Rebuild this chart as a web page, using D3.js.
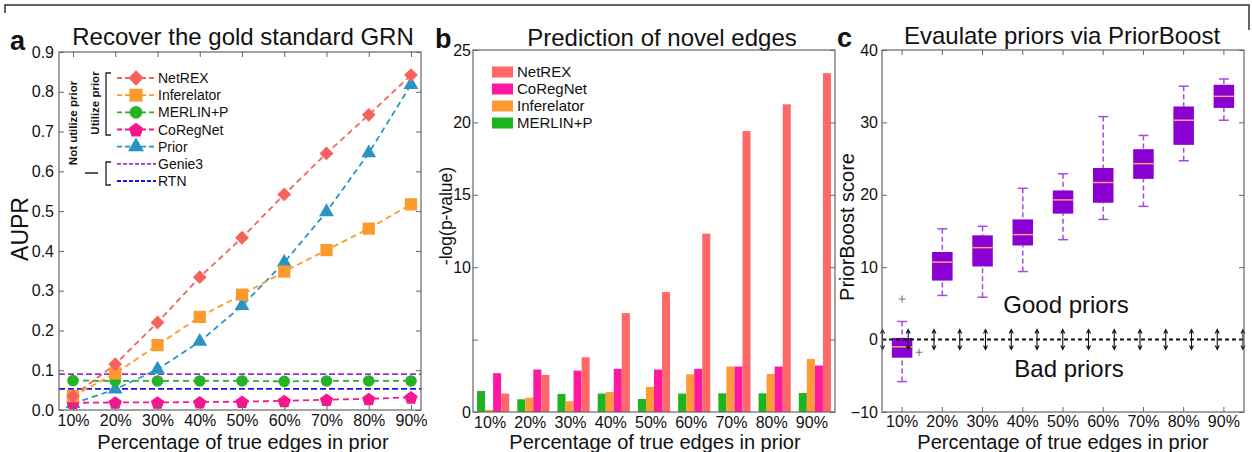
<!DOCTYPE html>
<html>
<head>
<meta charset="utf-8">
<script src="https://cdn.jsdelivr.net/npm/d3@7"></script>
<style>
  html, body { margin: 0; padding: 0; background: #fff; }
  svg { display: block; font-family: "Liberation Sans", Arial, sans-serif; }
</style>
</head>
<body>
<svg id="fig" width="1252" height="452"></svg>
<script>
// ---- data ----
const pcts = [10, 20, 30, 40, 50, 60, 70, 80, 90];
const pctLabels = pcts.map((p) => p + '%');

// panel a: AUPR
const auprNetREX = [0.035, 0.115, 0.22, 0.334, 0.433, 0.542, 0.645, 0.742, 0.842];
const auprInferelator = [0.035, 0.092, 0.163, 0.234, 0.29, 0.348, 0.402, 0.456, 0.517];
const auprMerlin = [0.074, 0.073, 0.073, 0.073, 0.073, 0.072, 0.073, 0.073, 0.073];
const auprCoRegNet = [0.018, 0.019, 0.019, 0.02, 0.021, 0.023, 0.026, 0.028, 0.032];
const auprPrior = [0.016, 0.052, 0.102, 0.172, 0.262, 0.371, 0.498, 0.646, 0.818];
const auprGenie3 = 0.09;
const auprRTN = 0.053;
const auprTicks = [0, 0.1, 0.2, 0.3, 0.4, 0.5, 0.6, 0.7, 0.8, 0.9];

// panel b: -log(p-value)
const novelSeries = ['MERLIN+P', 'Inferelator', 'CoRegNet', 'NetREX'];
const novelMerlin = [1.45, 0.88, 1.25, 1.27, 0.9, 1.27, 1.29, 1.29, 1.31];
const novelInferelator = [0.14, 0.99, 0.74, 1.38, 1.73, 2.6, 3.14, 2.63, 3.67];
const novelCoRegNet = [2.68, 2.93, 2.86, 2.98, 2.93, 2.98, 3.14, 3.14, 3.21];
const novelNetREX = [1.27, 2.56, 3.78, 6.83, 8.28, 12.32, 19.4, 21.25, 23.4];
const novelTicks = [0, 5, 10, 15, 20, 25];

// panel c: PriorBoost score boxplots
const pbWhiskLo = [-5.8, 6.1, 5.85, 9.4, 13.8, 16.6, 18.4, 24.7, 30.3];
const pbQ1 = [-2.5, 8.15, 10.1, 13.0, 17.4, 18.9, 22.2, 26.9, 32.0];
const pbMedian = [-1.0, 10.7, 12.7, 14.5, 19.3, 21.7, 24.3, 30.3, 33.6];
const pbQ3 = [0.23, 12.1, 14.4, 16.6, 20.6, 23.7, 26.3, 32.2, 35.2];
const pbWhiskHi = [2.5, 15.3, 15.65, 20.9, 22.9, 30.8, 28.2, 35.0, 36.0];
const pbOutliers = [{ pct: '10%', v: 5.6, dx: 0 }, { pct: '10%', v: -1.75, dx: 17 }];
const pbTicks = [-10, 0, 10, 20, 30, 40];

// ---- colors ----
const C = {
  netrex: '#f7625f',
  infer: '#fc9a2c',
  merlin: '#25b325',
  coreg: '#f5168e',
  prior: '#2994c2',
  genie3: '#9a30d0',
  rtn: '#1515e6',
  frame: '#666',
  box: '#8a00d2',
  whisk: '#a64ce0',
  med: '#f2a27a',
};
const barColor = { 'MERLIN+P': '#1fb41f', Inferelator: '#ff9a36', CoRegNet: '#ff18a0', NetREX: '#ff6868' };

const svg = d3.select('#fig');
svg.append('rect').attr('width', 1252).attr('height', 452).attr('fill', '#fff');

// top border of the cropped figure
svg.append('path')
  .attr('d', 'M5,13V5H1249V30')
  .attr('fill', 'none').attr('stroke', '#333').attr('stroke-width', 1.5);

function frame(x0, y0, x1, y1) {
  svg.append('rect')
    .attr('x', x0).attr('y', y0).attr('width', x1 - x0).attr('height', y1 - y0)
    .attr('fill', 'none').attr('stroke', C.frame).attr('stroke-width', 1.2);
}

function styleAxis(g, size) {
  g.select('.domain').remove();
  g.selectAll('line').attr('stroke', C.frame);
  g.selectAll('text').attr('font-size', size || 16).attr('fill', '#111')
    .attr('font-family', '"Liberation Sans", Arial, sans-serif');
}

function label(x, y, txt, size, opts = {}) {
  const t = svg.append('text')
    .attr('x', x).attr('y', y)
    .attr('font-size', size)
    .attr('fill', '#111')
    .attr('text-anchor', opts.anchor || 'middle')
    .attr('font-weight', opts.bold ? 700 : 400)
    .text(txt);
  if (opts.rotate) t.attr('transform', `rotate(-90,${x},${y})`);
  return t;
}

// custom marker shapes
const symDiamond = {
  draw(ctx, size) {
    const r = Math.sqrt(size / 2);
    ctx.moveTo(0, -r); ctx.lineTo(r, 0); ctx.lineTo(0, r); ctx.lineTo(-r, 0); ctx.closePath();
  },
};
const symPentagon = {
  draw(ctx, size) {
    const r = Math.sqrt(size / (2.5 * Math.sin((2 * Math.PI) / 5)));
    for (let i = 0; i < 5; i++) {
      const a = -Math.PI / 2 + (i * 2 * Math.PI) / 5;
      if (i === 0) ctx.moveTo(r * Math.cos(a), r * Math.sin(a) + 0.8);
      else ctx.lineTo(r * Math.cos(a), r * Math.sin(a) + 0.8);
    }
    ctx.closePath();
  },
};

const xTitle = 'Percentage of true edges in prior';

// ================= panel a =================
{
  const x0 = 59, x1 = 421, y0 = 52, y1 = 410;
  const x = d3.scaleLinear().domain([10, 90]).range([73, 411]);
  const y = d3.scaleLinear().domain([0, 0.9]).range([y1, y0]);

  label(10, 50, 'a', 27, { anchor: 'start', bold: true });
  label(243, 45, 'Recover the gold standard GRN', 24);
  label(28, 229, 'AUPR', 23, { rotate: true });
  label(243, 449, xTitle, 20);

  const series = [
    { name: 'NetREX', vals: auprNetREX, color: C.netrex, sym: symDiamond, size: 95, lsize: 120 },
    { name: 'Inferelator', vals: auprInferelator, color: C.infer, sym: d3.symbolSquare, size: 150, lsize: 170 },
    { name: 'MERLIN+P', vals: auprMerlin, color: C.merlin, sym: d3.symbolCircle, size: 105, lsize: 125 },
    { name: 'CoRegNet', vals: auprCoRegNet, color: C.coreg, sym: symPentagon, size: 115, lsize: 135 },
    { name: 'Prior', vals: auprPrior, color: C.prior, sym: d3.symbolTriangle, size: 95, lsize: 110 },
  ];

  // baseline methods (no prior)
  const hl = [
    { name: 'Genie3', v: auprGenie3, color: C.genie3 },
    { name: 'RTN', v: auprRTN, color: C.rtn },
  ];
  svg.append('g').selectAll('line').data(hl).join('line')
    .attr('x1', x0).attr('x2', x1)
    .attr('y1', (d) => y(d.v)).attr('y2', (d) => y(d.v))
    .attr('stroke', (d) => d.color).attr('stroke-width', 1.8).attr('stroke-dasharray', '6,3');

  const line = d3.line().x((d, i) => x(pcts[i])).y((d) => y(d));
  series.slice().reverse().forEach((s) => {
    svg.append('path').datum(s.vals)
      .attr('d', line).attr('fill', 'none')
      .attr('stroke', s.color).attr('stroke-width', 1.8).attr('stroke-dasharray', '6,4');
  });
  series.slice().reverse().forEach((s) => {
    svg.append('g').selectAll('path').data(s.vals).join('path')
      .attr('transform', (d, i) => `translate(${x(pcts[i])},${y(d)})`)
      .attr('d', d3.symbol().type(s.sym).size(s.size))
      .attr('fill', s.color);
  });

  // axes (ticks point inward)
  const ax = (g) => styleAxis(g);
  svg.append('g').attr('transform', `translate(${x0},0)`)
    .call(d3.axisLeft(y).tickValues(auprTicks).tickFormat(d3.format('.1f')).tickSizeInner(-5).tickSizeOuter(0).tickPadding(5))
    .call(ax);
  svg.append('g').attr('transform', `translate(${x1},0)`)
    .call(d3.axisRight(y).tickValues(auprTicks).tickFormat('').tickSizeInner(-5).tickSizeOuter(0))
    .call(ax);
  svg.append('g').attr('transform', `translate(0,${y1})`)
    .call(d3.axisBottom(x).tickValues(pcts).tickFormat((d) => d + '%').tickSizeInner(-5).tickSizeOuter(0).tickPadding(5))
    .call(ax);
  svg.append('g').attr('transform', `translate(0,${y0})`)
    .call(d3.axisTop(x).tickValues(pcts).tickFormat('').tickSizeInner(-5).tickSizeOuter(0))
    .call(ax);
  frame(x0, y0, x1, y1);

  // legend
  const legRows = series.map((s) => ({ ...s, dashed: true }))
    .concat(hl.map((h) => ({ name: h.name, color: h.color, sym: null })));
  const ly = d3.scalePoint().domain(legRows.map((d) => d.name)).range([78, 181]);
  const lg = svg.append('g');
  legRows.forEach((r) => {
    const yy = ly(r.name);
    lg.append('line').attr('x1', 117).attr('x2', 156).attr('y1', yy).attr('y2', yy)
      .attr('stroke', r.color).attr('stroke-width', 1.8).attr('stroke-dasharray', r.sym ? '5,3' : '4,2');
    if (r.sym) {
      lg.append('path').attr('transform', `translate(136,${yy})`)
        .attr('d', d3.symbol().type(r.sym).size(r.lsize)).attr('fill', r.color);
    }
    lg.append('text').attr('x', 158).attr('y', yy).attr('dy', '0.36em')
      .attr('font-size', 14).attr('fill', '#111').text(r.name);
  });
  // brackets
  lg.append('path').attr('d', 'M111,73H106V135H111')
    .attr('fill', 'none').attr('stroke', '#222').attr('stroke-width', 1.3);
  lg.append('path').attr('d', 'M111,162H106V185H111M85,173H98')
    .attr('fill', 'none').attr('stroke', '#222').attr('stroke-width', 1.3);
  label(99, 103, 'Utilize prior', 11.5, { rotate: true, bold: true });
  label(77, 123, 'Not utilize prior', 11.5, { rotate: true, bold: true });
}

// ================= panel b =================
{
  const x0 = 473, x1 = 835, y0 = 50, y1 = 412;
  const x = d3.scaleBand().domain(pctLabels).range([x0, x1]);
  const xs = d3.scaleBand().domain(novelSeries).range([0, x.bandwidth()]).paddingOuter(0.5);
  const y = d3.scaleLinear().domain([0, 25]).range([y1, y0]);

  label(435, 48, 'b', 27, { anchor: 'start', bold: true });
  label(662, 46, 'Prediction of novel edges', 24);
  label(452, 216, '-log(p-value)', 17.5, { rotate: true });
  label(655, 449, xTitle, 20);

  const vals = { 'MERLIN+P': novelMerlin, Inferelator: novelInferelator, CoRegNet: novelCoRegNet, NetREX: novelNetREX };
  const rows = [];
  pctLabels.forEach((p, i) => novelSeries.forEach((s) => rows.push({ p, s, v: vals[s][i] })));
  svg.append('g').selectAll('rect').data(rows).join('rect')
    .attr('x', (d) => x(d.p) + xs(d.s))
    .attr('width', xs.bandwidth())
    .attr('y', (d) => y(d.v))
    .attr('height', (d) => y1 - y(d.v))
    .attr('fill', (d) => barColor[d.s]);

  svg.append('g').attr('transform', `translate(${x0},0)`)
    .call(d3.axisLeft(y).tickValues(novelTicks).tickFormat((d) => (d === 5 ? '' : d)).tickSizeInner(-5).tickSizeOuter(0).tickPadding(2))
    .call(styleAxis);
  svg.append('g').attr('transform', `translate(${x1},0)`)
    .call(d3.axisRight(y).tickValues(novelTicks).tickFormat('').tickSizeInner(-5).tickSizeOuter(0))
    .call(styleAxis);
  svg.append('g').attr('transform', `translate(-3,${y1})`)
    .call(d3.axisBottom(x).tickSize(0).tickPadding(5))
    .call(styleAxis);
  frame(x0, y0, x1, y1);

  const legOrder = ['NetREX', 'CoRegNet', 'Inferelator', 'MERLIN+P'];
  const ly = d3.scalePoint().domain(legOrder).range([72, 123]);
  const lg = svg.append('g');
  legOrder.forEach((s) => {
    lg.append('rect').attr('x', 492).attr('y', ly(s) - 5.5).attr('width', 21).attr('height', 11).attr('fill', barColor[s]);
    lg.append('text').attr('x', 517).attr('y', ly(s)).attr('dy', '0.36em')
      .attr('font-size', 15).attr('fill', '#111').text(s);
  });
}

// ================= panel c =================
{
  const x0 = 882, x1 = 1244, y0 = 50, y1 = 412;
  const x = d3.scaleBand().domain(pctLabels).range([x0, x1]);
  const y = d3.scaleLinear().domain([-10, 40]).range([y1, y0]);
  const cx = (p) => x(p) + x.bandwidth() / 2;
  const bw = x.bandwidth() * 0.51;

  label(837, 47, 'c', 27, { anchor: 'start', bold: true });
  label(1062, 44, 'Evaulate priors via PriorBoost', 24);
  label(854, 227, 'PriorBoost score', 20, { rotate: true });
  label(1063, 449, xTitle, 20);

  label(1066, 313, 'Good priors', 24);
  label(1069, 377, 'Bad priors', 24);

  const boxes = pctLabels.map((p, i) => ({
    p, lo: pbWhiskLo[i], q1: pbQ1[i], med: pbMedian[i], q3: pbQ3[i], hi: pbWhiskHi[i],
  }));
  const g = svg.append('g');
  // whiskers
  g.selectAll('line.wl').data(boxes).join('line').attr('class', 'wl')
    .attr('x1', (d) => cx(d.p)).attr('x2', (d) => cx(d.p))
    .attr('y1', (d) => y(d.lo)).attr('y2', (d) => y(d.q1))
    .attr('stroke', C.whisk).attr('stroke-width', 1.5).attr('stroke-dasharray', '5,3');
  g.selectAll('line.wh').data(boxes).join('line').attr('class', 'wh')
    .attr('x1', (d) => cx(d.p)).attr('x2', (d) => cx(d.p))
    .attr('y1', (d) => y(d.hi)).attr('y2', (d) => y(d.q3))
    .attr('stroke', C.whisk).attr('stroke-width', 1.5).attr('stroke-dasharray', '5,3');
  ['lo', 'hi'].forEach((k) => {
    g.selectAll('line.cap' + k).data(boxes).join('line').attr('class', 'cap' + k)
      .attr('x1', (d) => cx(d.p) - 5).attr('x2', (d) => cx(d.p) + 5)
      .attr('y1', (d) => y(d[k])).attr('y2', (d) => y(d[k]))
      .attr('stroke', C.whisk).attr('stroke-width', 1.5);
  });
  g.selectAll('rect').data(boxes).join('rect')
    .attr('x', (d) => cx(d.p) - bw / 2).attr('width', bw)
    .attr('y', (d) => y(d.q3)).attr('height', (d) => y(d.q1) - y(d.q3))
    .attr('fill', C.box);
  g.selectAll('line.med').data(boxes).join('line').attr('class', 'med')
    .attr('x1', (d) => cx(d.p) - bw / 2).attr('x2', (d) => cx(d.p) + bw / 2)
    .attr('y1', (d) => y(d.med)).attr('y2', (d) => y(d.med))
    .attr('stroke', C.med).attr('stroke-width', 1.5);
  g.selectAll('path.out').data(pbOutliers).join('path').attr('class', 'out')
    .attr('transform', (d) => `translate(${cx(d.pct) + d.dx},${y(d.v)})`)
    .attr('d', 'M-3.5,0H3.5M0,-3.5V3.5')
    .attr('stroke', '#777').attr('stroke-width', 1.1);

  // zero line with double-headed arrow markers
  svg.append('line').attr('x1', x0).attr('x2', x1).attr('y1', y(0)).attr('y2', y(0))
    .attr('stroke', '#111').attr('stroke-width', 2).attr('stroke-dasharray', '4,3');
  const ax = d3.scaleLinear().domain([0, 14]).range([x0 + 0.5, x1 - 1]);
  svg.append('g').selectAll('path').data(d3.range(15)).join('path')
    .attr('transform', (d) => `translate(${ax(d)},${y(0)})`)
    .attr('d', 'M0,-9V9M-2,-6L0,-10L2,-6M-2,6L0,10L2,6')
    .attr('fill', 'none').attr('stroke', '#111').attr('stroke-width', 1.1);

  svg.append('g').attr('transform', `translate(${x0},0)`)
    .call(d3.axisLeft(y).tickValues(pbTicks).tickSizeInner(-5).tickSizeOuter(0).tickPadding(4))
    .call(styleAxis);
  svg.append('g').attr('transform', `translate(${x1},0)`)
    .call(d3.axisRight(y).tickValues(pbTicks).tickFormat('').tickSizeInner(-5).tickSizeOuter(0))
    .call(styleAxis);
  svg.append('g').attr('transform', `translate(0,${y1})`)
    .call(d3.axisBottom(x).tickSizeInner(-5).tickSizeOuter(0).tickPadding(4))
    .call(styleAxis);
  svg.append('g').attr('transform', `translate(0,${y0})`)
    .call(d3.axisTop(x).tickFormat('').tickSizeInner(-5).tickSizeOuter(0))
    .call(styleAxis);
  frame(x0, y0, x1, y1);
}
</script>
</body>
</html>
